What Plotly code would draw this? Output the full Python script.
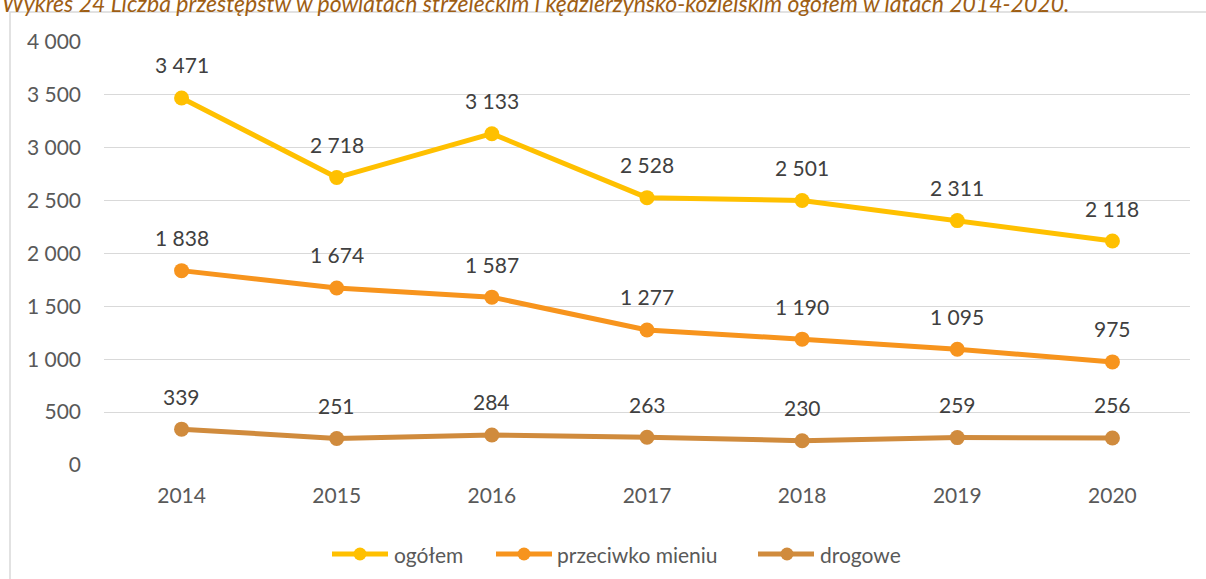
import plotly.graph_objects as go

# Crime counts per year in the two districts
years = ["2014", "2015", "2016", "2017", "2018", "2019", "2020"]
ogolem = [3471, 2718, 3133, 2528, 2501, 2311, 2118]
przeciwko_mieniu = [1838, 1674, 1587, 1277, 1190, 1095, 975]
drogowe = [339, 251, 284, 263, 230, 259, 256]

series_names = ["ogółem", "przeciwko mieniu", "drogowe"]
series_values = [ogolem, przeciwko_mieniu, drogowe]
series_colors = ["#FFC000", "#F7941D", "#D08B3D"]

y_ticks = [0, 500, 1000, 1500, 2000, 2500, 3000, 3500, 4000]

title_text = ("Wykres 24 Liczba przestępstw w powiatach strzeleckim i "
              "kędzierzyńsko-kozielskim ogółem w latach 2014-2020.")


def fmt(v):
    return f"{v:,}".replace(",", " ")


W, H = 1206, 579
ML, MR, MT, MB = 104, 16, 42, 114
PW, PH = W - ML - MR, H - MT - MB


def px_x(x):
    return (x - ML) / PW


def px_y(y):
    return 1 - (y - MT) / PH


FONT = "Lato"
TEXT_GREY = "#595959"
LABEL_GREY = "#404040"
FS = 21

fig = go.Figure()

for name, vals, col in zip(series_names, series_values, series_colors):
    fig.add_trace(go.Scatter(
        x=years, y=vals, name=name, mode="lines+markers",
        line=dict(color=col, width=5),
        marker=dict(color=col, size=15),
        showlegend=False, hoverinfo="x+y+name",
    ))

annotations = []
# value labels above each point (category index on the x axis)
for vals in series_values:
    for i, v in enumerate(vals):
        annotations.append(dict(
            x=i, y=v, xref="x", yref="y", text=fmt(v), showarrow=False,
            yshift=33, yanchor="middle", xanchor="center",
            font=dict(family=FONT, size=FS, color=LABEL_GREY),
        ))

# chart title along the top edge
annotations.append(dict(
    x=px_x(0), y=px_y(3), xref="paper", yref="paper", text=f"<i>{title_text}</i>",
    showarrow=False, xanchor="left", yanchor="middle",
    font=dict(family=FONT, size=23, color="#9E5E14"),
))

shapes = [
    # outer chart frame
    dict(type="rect", xref="paper", yref="paper",
         x0=px_x(10), x1=px_x(1260), y0=px_y(700), y1=px_y(12),
         line=dict(color="#D9D9D9", width=1.5), fillcolor="rgba(0,0,0,0)",
         layer="below"),
]

# legend entries: line with a dot, then the series name
legend_items = [(332, 388, 360, 392), (496, 552, 524, 555), (758, 814, 787, 818)]
leg_y = 554
for (lx0, lx1, mx, tx), name, col in zip(legend_items, series_names, series_colors):
    shapes.append(dict(type="line", xref="paper", yref="paper",
                       x0=px_x(lx0), x1=px_x(lx1), y0=px_y(leg_y), y1=px_y(leg_y),
                       line=dict(color=col, width=5)))
    shapes.append(dict(type="circle", xref="paper", yref="paper",
                       xsizemode="pixel", ysizemode="pixel",
                       xanchor=px_x(mx), yanchor=px_y(leg_y),
                       x0=-6.5, x1=6.5, y0=-6.5, y1=6.5,
                       fillcolor=col, line=dict(width=0)))
    annotations.append(dict(
        x=px_x(tx), y=px_y(leg_y), xref="paper", yref="paper", text=name,
        showarrow=False, xanchor="left", yanchor="middle",
        font=dict(family=FONT, size=FS, color=TEXT_GREY),
    ))

fig.update_layout(
    width=W, height=H,
    margin=dict(l=ML, r=MR, t=MT, b=MB, pad=0),
    paper_bgcolor="white", plot_bgcolor="white",
    font=dict(family=FONT, size=FS, color=TEXT_GREY),
    annotations=annotations, shapes=shapes,
    showlegend=False,
)
fig.update_xaxes(
    type="category", range=[-0.5, 6.5], showgrid=False, zeroline=False,
    showline=False, ticks="", ticklabelstandoff=16,
    tickfont=dict(family=FONT, size=FS, color=TEXT_GREY),
)
fig.update_yaxes(
    range=[0, 4000], tickvals=y_ticks, ticktext=[fmt(v) for v in y_ticks],
    showgrid=True, gridcolor="#D9D9D9", gridwidth=1.3, zeroline=False,
    showline=False, ticks="", ticklabelstandoff=22,
    tickfont=dict(family=FONT, size=FS, color=TEXT_GREY),
)

fig.write_html("out.html")
